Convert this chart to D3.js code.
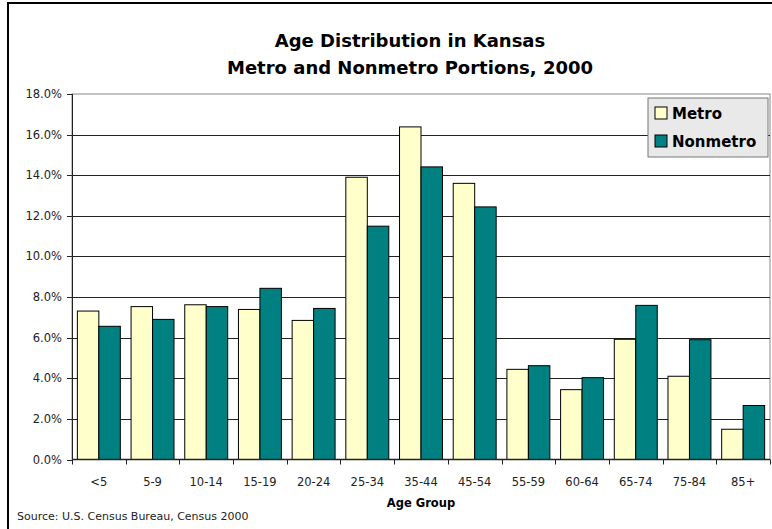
<!DOCTYPE html>
<html lang="en">
<head>
<meta charset="utf-8">
<title>Age Distribution in Kansas</title>
<script type="text/javascript" src="https://d3js.org/d3.v7.min.js"></script>
<style>
    body { margin: 0; background: white; }
    text { font-family: 'DejaVu Sans', sans-serif; fill: #222; }
    .title { font-weight: bold; font-size: 18px; fill: #000; }
    .tick-label { font-size: 11.5px; }
    .legend-label { font-weight: bold; font-size: 15px; fill: #000; }
</style>
</head>
<body>
<div id="container"></div>
<script>
    var w = 772;
    var h = 529;

    // data
    var ageGroups = ["<5","5-9","10-14","15-19","20-24","25-34","35-44","45-54","55-59","60-64","65-74","75-84","85+"];
    var seriesNames = ["Metro","Nonmetro"];
    var metro    = [7.31, 7.53, 7.62, 7.39, 6.85, 13.90, 16.38, 13.60, 4.44, 3.44, 5.92, 4.10, 1.49];
    var nonmetro = [6.56, 6.90, 7.53, 8.43, 7.44, 11.49, 14.41, 12.44, 4.62, 4.03, 7.59, 5.90, 2.66];
    var yTicks = [0, 2, 4, 6, 8, 10, 12, 14, 16, 18];
    var colors = ["#FFFFCC", "#008080"];

    var svg = d3.select("div#container")
                .append("svg")
                .attr("width", w)
                .attr("height", h)
                .style("background-color", "white");

    // outer frame
    svg.append("rect")
        .attr("x", 8).attr("y", 3)
        .attr("width", 800).attr("height", 600)
        .attr("fill", "white")
        .attr("stroke", "black")
        .attr("stroke-width", 2);

    // ---------------------------//
    //       SCALES               //
    // ---------------------------//
    var plotLeft = 72, plotRight = 770, plotTop = 94, plotBottom = 459.5;

    var x = d3.scaleBand()
        .domain(ageGroups)
        .range([plotLeft, plotRight])
        .paddingInner(0.2)
        .paddingOuter(0.1);

    var xSub = d3.scaleBand()
        .domain(seriesNames)
        .range([0, x.bandwidth()]);

    var y = d3.scaleLinear()
        .domain([0, 18])
        .range([plotBottom, plotTop]);

    // plot area border
    svg.append("rect")
        .attr("x", plotLeft).attr("y", plotTop)
        .attr("width", plotRight - plotLeft).attr("height", plotBottom - plotTop)
        .attr("fill", "white")
        .attr("stroke", "#888")
        .attr("stroke-width", 1);

    // gridlines
    svg.selectAll(".grid")
        .data(yTicks.filter(function(d) { return d > 0 && d < 18; }))
        .enter()
        .append("line")
        .attr("class", "grid")
        .attr("x1", plotLeft).attr("x2", plotRight)
        .attr("y1", function(d) { return Math.round(y(d)) + 0.5; })
        .attr("y2", function(d) { return Math.round(y(d)) + 0.5; })
        .attr("stroke", "#222")
        .attr("stroke-width", 1);

    // ---------------------------//
    //       BARS                 //
    // ---------------------------//
    var rows = ageGroups.map(function(g, i) {
        return { group: g, values: [
            { key: "Metro", value: metro[i] },
            { key: "Nonmetro", value: nonmetro[i] }
        ]};
    });

    var groups = svg.selectAll(".grp")
        .data(rows)
        .enter()
        .append("g")
        .attr("class", "grp")
        .attr("transform", function(d) { return "translate(" + x(d.group) + ",0)"; });

    groups.selectAll("rect")
        .data(function(d) { return d.values; })
        .enter()
        .append("rect")
        .attr("x", function(d) { return xSub(d.key); })
        .attr("y", function(d) { return y(d.value); })
        .attr("width", xSub.bandwidth())
        .attr("height", function(d) { return plotBottom - y(d.value); })
        .attr("fill", function(d, i) { return colors[i]; })
        .attr("stroke", "black")
        .attr("stroke-width", 1);

    // ---------------------------//
    //       AXES                 //
    // ---------------------------//
    var axisG = svg.append("g");

    // y axis line + ticks
    axisG.append("line")
        .attr("x1", plotLeft + 0.5).attr("x2", plotLeft + 0.5)
        .attr("y1", plotTop).attr("y2", plotBottom)
        .attr("stroke", "#222");
    axisG.selectAll(".ytick")
        .data(yTicks)
        .enter()
        .append("line")
        .attr("class", "ytick")
        .attr("x1", plotLeft - 5).attr("x2", plotLeft)
        .attr("y1", function(d) { return Math.round(y(d)) + 0.5; })
        .attr("y2", function(d) { return Math.round(y(d)) + 0.5; })
        .attr("stroke", "#222");
    axisG.selectAll(".ylabel")
        .data(yTicks)
        .enter()
        .append("text")
        .attr("class", "tick-label ylabel")
        .attr("x", 62)
        .attr("y", function(d) { return y(d) + 4; })
        .attr("text-anchor", "end")
        .text(function(d) { return d.toFixed(1) + "%"; });

    // x axis line + ticks at category boundaries
    axisG.append("line")
        .attr("x1", plotLeft).attr("x2", plotRight)
        .attr("y1", plotBottom).attr("y2", plotBottom)
        .attr("stroke", "#222")
        .attr("stroke-width", 1.5);
    var step = x.step();
    axisG.selectAll(".xtick")
        .data(d3.range(ageGroups.length + 1))
        .enter()
        .append("line")
        .attr("class", "xtick")
        .attr("x1", function(i) { return Math.round(plotLeft + i * step) + 0.5; })
        .attr("x2", function(i) { return Math.round(plotLeft + i * step) + 0.5; })
        .attr("y1", plotBottom).attr("y2", plotBottom + 5)
        .attr("stroke", "#222");
    axisG.selectAll(".xlabel")
        .data(ageGroups)
        .enter()
        .append("text")
        .attr("class", "tick-label xlabel")
        .attr("x", function(d) { return x(d) + x.bandwidth() / 2; })
        .attr("y", 486)
        .attr("text-anchor", "middle")
        .text(function(d) { return d; });

    svg.append("text")
        .attr("x", 421)
        .attr("y", 507)
        .attr("text-anchor", "middle")
        .style("font-weight", "bold")
        .style("font-size", "11.5px")
        .style("fill", "#000")
        .text("Age Group");

    svg.append("text")
        .attr("x", 17)
        .attr("y", 520)
        .style("font-size", "11px")
        .text("Source: U.S. Census Bureau, Census 2000");

    // ---------------------------//
    //       TITLE                //
    // ---------------------------//
    svg.append("text")
        .attr("class", "title")
        .attr("x", 410).attr("y", 47)
        .attr("text-anchor", "middle")
        .text("Age Distribution in Kansas");
    svg.append("text")
        .attr("class", "title")
        .attr("x", 410).attr("y", 74)
        .attr("text-anchor", "middle")
        .text("Metro and Nonmetro Portions, 2000");

    // ---------------------------//
    //       LEGEND               //
    // ---------------------------//
    var legend = svg.append("g").attr("transform", "translate(648,98)");
    legend.append("rect")
        .attr("width", 120).attr("height", 59)
        .attr("fill", "#e9e9e9")
        .attr("stroke", "#777");
    var items = legend.selectAll(".item")
        .data(seriesNames)
        .enter()
        .append("g")
        .attr("class", "item")
        .attr("transform", function(d, i) { return "translate(7," + (9 + i * 28) + ")"; });
    items.append("rect")
        .attr("width", 12).attr("height", 12)
        .attr("fill", function(d, i) { return colors[i]; })
        .attr("stroke", "black");
    items.append("text")
        .attr("class", "legend-label")
        .attr("x", 17).attr("y", 12)
        .text(function(d) { return d; });
</script>
</body>
</html>
